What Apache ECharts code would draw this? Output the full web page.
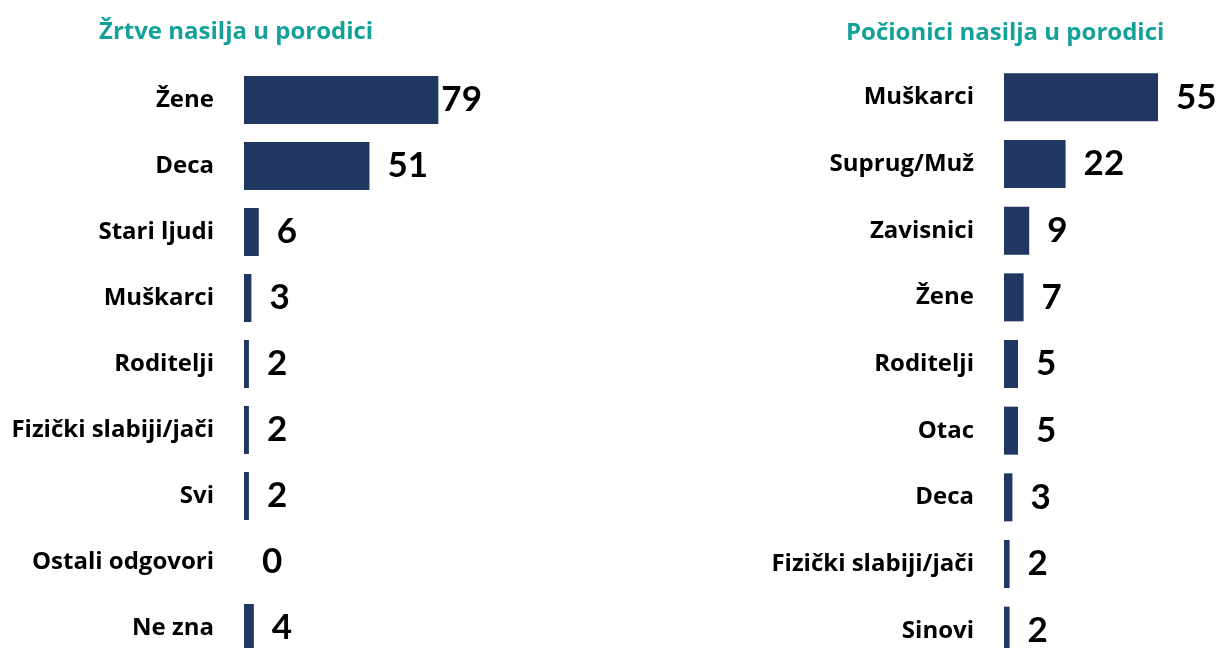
<!DOCTYPE html>
<html>
<head>
<meta charset="utf-8">
<script src="https://cdn.jsdelivr.net/npm/echarts@6/dist/echarts.min.js"></script>
<style>
html,body{margin:0;padding:0;background:#fff;overflow:hidden;}
#main{width:1220px;height:720px;}
</style>
</head>
<body>
<div id="main"></div>
<script>
var leftTitle = 'Žrtve nasilja u porodici';
var leftCategories = ['Žene','Deca','Stari ljudi','Muškarci','Roditelji','Fizički slabiji/jači','Svi','Ostali odgovori','Ne zna'];
var leftValues = [79, 51, 6, 3, 2, 2, 2, 0, 4];

var rightTitle = 'Počionici nasilja u porodici';
var rightCategories = ['Muškarci','Suprug/Muž','Zavisnici','Žene','Roditelji','Otac','Deca','Fizički slabiji/jači','Sinovi'];
var rightValues = [55, 22, 9, 7, 5, 5, 3, 2, 2];

var LABEL_FONT = 'Open Sans';
var VALUE_FONT = 'Lato';
var barColor = '#1f3761';
var titleColor = '#13a19a';

function seriesData(vals) {
  return vals.map(function (v) {
    if (v > 70) return { value: v, label: { distance: 3 } };
    return v;
  });
}

var chart = echarts.init(document.getElementById('main'), null, { renderer: 'canvas' });
chart.setOption({
  backgroundColor: '#ffffff',
  animation: false,
  title: [
    { text: leftTitle, left: 94, top: 15, textStyle: { color: titleColor, fontFamily: LABEL_FONT, fontWeight: 'bold', fontSize: 24 } },
    { text: rightTitle, left: 841, top: 16, textStyle: { color: titleColor, fontFamily: LABEL_FONT, fontWeight: 'bold', fontSize: 24 } }
  ],
  grid: [
    { left: 244, top: 67, width: 246, height: 594 },
    { left: 1004, top: 64, width: 168, height: 600 }
  ],
  xAxis: [
    { gridIndex: 0, type: 'value', min: 0, max: 100, show: false },
    { gridIndex: 1, type: 'value', min: 0, max: 60, show: false }
  ],
  yAxis: [
    { gridIndex: 0, type: 'category', inverse: true, data: leftCategories,
      axisLine: { show: false }, axisTick: { show: false }, splitLine: { show: false },
      axisLabel: { margin: 30, color: '#000', fontFamily: LABEL_FONT, fontWeight: 'bold', fontSize: 24 } },
    { gridIndex: 1, type: 'category', inverse: true, data: rightCategories,
      axisLine: { show: false }, axisTick: { show: false }, splitLine: { show: false },
      axisLabel: { margin: 30, color: '#000', fontFamily: LABEL_FONT, fontWeight: 'bold', fontSize: 24 } }
  ],
  series: [
    { type: 'bar', xAxisIndex: 0, yAxisIndex: 0, data: seriesData(leftValues), barWidth: 48,
      itemStyle: { color: barColor },
      label: { show: true, position: 'right', distance: 18, color: '#000', fontFamily: VALUE_FONT, fontWeight: 'bold', fontSize: 35 } },
    { type: 'bar', xAxisIndex: 1, yAxisIndex: 1, data: rightValues, barWidth: 48,
      itemStyle: { color: barColor },
      label: { show: true, position: 'right', distance: 18, color: '#000', fontFamily: VALUE_FONT, fontWeight: 'bold', fontSize: 35 } }
  ]
});
</script>
</body>
</html>
